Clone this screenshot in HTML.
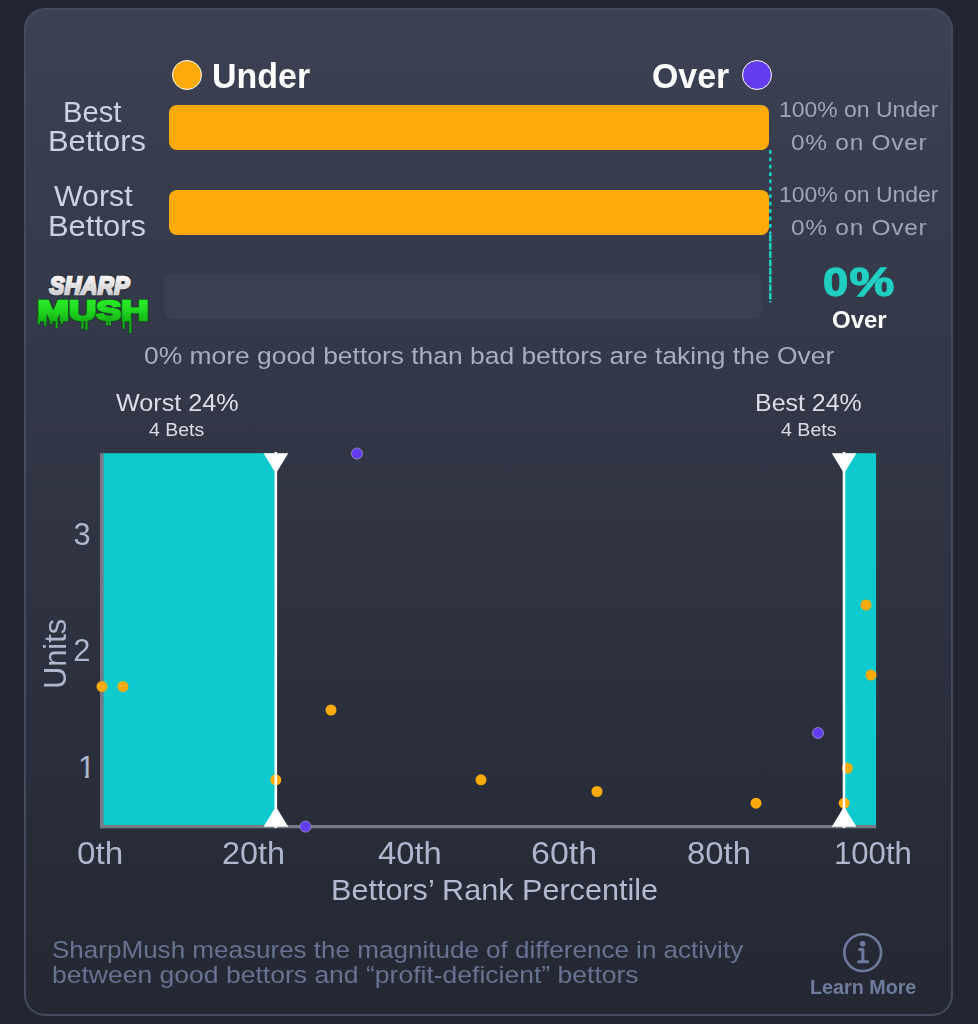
<!DOCTYPE html>
<html>
<head>
<meta charset="utf-8">
<title>SharpMush</title>
<style>
html,body{margin:0;padding:0;}
body{width:978px;height:1024px;background:#222632;overflow:hidden;position:relative;font-family:"Liberation Sans",sans-serif;}
.card{position:absolute;left:24.3px;top:8px;width:924.7px;height:1003.5px;border:2px solid #454c60;border-radius:21px;
  background:linear-gradient(180deg,#3c4153 0%,#242834 100%);}
.t{position:absolute;white-space:nowrap;line-height:1;transform-origin:0 50%;}
.dot{position:absolute;border-radius:50%;box-sizing:border-box;border:1.5px solid #fff;width:30px;height:30px;top:60.3px;}
.bar{position:absolute;height:45px;border-radius:8px;background:#fdab0a;}
svg{position:absolute;left:0;top:0;overflow:visible;}
</style>
</head>
<body>
<div class="card"></div>

<!-- legend dots -->
<div class="dot" style="left:172px;background:#fdab0a;"></div>
<div class="dot" style="left:741.8px;background:#643df0;"></div>

<!-- bars -->
<div class="bar" style="left:169px;top:105px;width:600px;"></div>
<div class="bar" style="left:169px;top:190px;width:600px;"></div>
<div class="bar" style="left:164px;top:274.4px;width:598px;height:44.6px;background:#3c4152;"></div>

<!-- chart + decorations -->
<svg width="978" height="1024" viewBox="0 0 978 1024">
  <defs>
    <linearGradient id="gs" x1="0" y1="0" x2="0" y2="1"><stop offset="0" stop-color="#ffffff"/><stop offset="1" stop-color="#c4c4c6"/></linearGradient>
    <linearGradient id="gm" x1="0" y1="0" x2="0" y2="1"><stop offset="0" stop-color="#2cf02c"/><stop offset="0.45" stop-color="#22dd22"/><stop offset="1" stop-color="#12a812"/></linearGradient>
  </defs>
  <!-- dashed divider -->
  <line x1="770.3" y1="150" x2="770.3" y2="234" stroke="#1fd0c4" stroke-width="2.5" stroke-dasharray="3.7 3.7"/>
  <line x1="770.3" y1="234.5" x2="770.3" y2="302.4" stroke="#1fd0c4" stroke-width="2.5" stroke-dasharray="7 1.3"/>
  <!-- teal regions -->
  <rect x="103" y="453.2" width="172" height="373" fill="#0ccace"/>
  <rect x="845" y="453.2" width="31.1" height="373" fill="#0ccace"/>
  <!-- axes -->
  <rect x="100" y="453.2" width="3.6" height="375.1" fill="#767a87"/>
  <rect x="100" y="825" width="776.1" height="3.3" fill="#767a87"/>
  <!-- points -->
  <g fill="#fdab0a">
    <circle cx="102" cy="686.6" r="5.5"/><circle cx="122.9" cy="686.6" r="5.5"/>
    <circle cx="275.8" cy="779.8" r="5.5"/><circle cx="331" cy="710" r="5.5"/>
    <circle cx="481" cy="779.8" r="5.5"/><circle cx="597" cy="791.5" r="5.5"/>
    <circle cx="756" cy="803.2" r="5.5"/><circle cx="866" cy="605" r="5.5"/>
    <circle cx="871" cy="675" r="5.5"/><circle cx="847.4" cy="768.2" r="5.5"/>
    <circle cx="844.2" cy="803.2" r="5.5"/>
  </g>
  <g fill="#643df0" stroke="#9a98c4" stroke-width="0.8">
    <circle cx="357" cy="453.5" r="5.5"/><circle cx="305.5" cy="826.6" r="5.5"/><circle cx="818" cy="733" r="5.5"/>
  </g>
  <!-- markers -->
  <rect x="274.5" y="452" width="2.6" height="376" fill="#fff"/>
  <rect x="842.7" y="452" width="2.6" height="376" fill="#fff"/>
  <path d="M263.5 453.2h24.8l-12.4 20.2z M263.5 826.7h24.8l-12.4 -20.2z M831.8 453.2h24.6l-12.3 20.2z M831.8 826.7h24.6l-12.3 -20.2z" fill="#fff"/>
  <!-- y tick "1" (foot clipped to match plain numeral) -->
  <clipPath id="c1"><path d="M70 750H96V775H70z M85.1 775H88.7V782H85.1z"/></clipPath>
  <text x="78.0" y="778" font-family="Liberation Sans, sans-serif" font-size="31" fill="#aeb7cd" clip-path="url(#c1)">1</text>
  <!-- info icon -->
  <circle cx="862.7" cy="952.6" r="18.4" fill="none" stroke="#6e7b9c" stroke-width="2.6"/>
  <path d="M859.7 949.6H862.9V961.6M858.7 961.8H867.7" fill="none" stroke="#6e7b9c" stroke-width="3" stroke-linecap="round" stroke-linejoin="round"/>
  <circle cx="862.7" cy="943.7" r="2.8" fill="#6e7b9c"/>
  <!-- logo -->
  <g font-family="Liberation Sans, sans-serif" font-weight="bold">
    <g transform="translate(49.6 293.6) scale(0.975 1)" font-size="23.4" font-style="italic">
      <text x="0.00" y="0" stroke="#1d202a" stroke-width="4.6" stroke-linejoin="round" fill="#1d202a" opacity="0.62">S</text>
      <text x="0.00" y="0" stroke="url(#gs)" stroke-width="2.4" stroke-linejoin="miter" fill="url(#gs)">S</text>
      <text x="15.61" y="0" stroke="#1d202a" stroke-width="4.6" stroke-linejoin="round" fill="#1d202a" opacity="0.62">H</text>
      <text x="15.61" y="0" stroke="url(#gs)" stroke-width="2.4" stroke-linejoin="miter" fill="url(#gs)">H</text>
      <text x="32.50" y="0" stroke="#1d202a" stroke-width="4.6" stroke-linejoin="round" fill="#1d202a" opacity="0.62">A</text>
      <text x="32.50" y="0" stroke="url(#gs)" stroke-width="2.4" stroke-linejoin="miter" fill="url(#gs)">A</text>
      <text x="49.40" y="0" stroke="#1d202a" stroke-width="4.6" stroke-linejoin="round" fill="#1d202a" opacity="0.62">R</text>
      <text x="49.40" y="0" stroke="url(#gs)" stroke-width="2.4" stroke-linejoin="miter" fill="url(#gs)">R</text>
      <text x="66.29" y="0" stroke="#1d202a" stroke-width="4.6" stroke-linejoin="round" fill="#1d202a" opacity="0.62">P</text>
      <text x="66.29" y="0" stroke="url(#gs)" stroke-width="2.4" stroke-linejoin="miter" fill="url(#gs)">P</text>
    </g>
    <path d="M38.8 318V323.3M45.3 318V325.3M51.3 318V323.3M56.6 318V327.3M61.9 318V323.3M82.5 318V327.9M86.5 318V329.3M107.1 318V324.6M109.9 318V324.6M123.7 318V327.9M130.4 318V331.9" stroke="#0c4a14" stroke-width="4" stroke-linecap="round" opacity="0.55" fill="none"/>
    <g transform="translate(37.4 319.6) scale(1.40 1)" font-size="27">
      <text x="0.00" y="0" stroke="#0c4a14" stroke-width="4.4" stroke-linejoin="round" fill="#0c4a14" opacity="0.62">M</text>
      <text x="0.00" y="0" stroke="url(#gm)" stroke-width="2.3" stroke-linejoin="miter" fill="url(#gm)">M</text>
      <text x="22.49" y="0" stroke="#0c4a14" stroke-width="4.4" stroke-linejoin="round" fill="#0c4a14" opacity="0.62">U</text>
      <text x="22.49" y="0" stroke="url(#gm)" stroke-width="2.3" stroke-linejoin="miter" fill="url(#gm)">U</text>
      <text x="41.98" y="0" stroke="#0c4a14" stroke-width="4.4" stroke-linejoin="round" fill="#0c4a14" opacity="0.62">S</text>
      <text x="41.98" y="0" stroke="url(#gm)" stroke-width="2.3" stroke-linejoin="miter" fill="url(#gm)">S</text>
      <text x="59.99" y="0" stroke="#0c4a14" stroke-width="4.4" stroke-linejoin="round" fill="#0c4a14" opacity="0.62">H</text>
      <text x="59.99" y="0" stroke="url(#gm)" stroke-width="2.3" stroke-linejoin="miter" fill="url(#gm)">H</text>
    </g>
    <path d="M38.8 318V323.3M45.3 318V325.3M51.3 318V323.3M56.6 318V327.3M61.9 318V323.3M82.5 318V327.9M86.5 318V329.3M107.1 318V324.6M109.9 318V324.6M123.7 318V327.9M130.4 318V331.9" stroke="#14b414" stroke-width="2" stroke-linecap="round" fill="none"/>
  </g>
</svg>

<div id="txt" style="position:absolute;left:0;top:0;width:978px;height:1024px;will-change:transform;">
<!-- rotated axis title -->
<div class="t" style="left:54.5px;top:654px;font-size:31px;color:#aeb7cd;letter-spacing:-0.1px;transform-origin:50% 50%;transform:translate(-50%,-50%) rotate(-90deg);">Units</div>

<div class="t" style="left:823.3px;top:261.9px;font-size:41.28px;color:#20cfc1;font-weight:bold;-webkit-text-stroke:1.3px #20cfc1;letter-spacing:1.2px;transform:scaleX(1.100);">0<span style="display:inline-block;transform:scaleX(1.11);transform-origin:0 50%;">%</span></div>
<div class="t" style="left:211.5px;top:59.4px;font-size:34.88px;color:#ffffff;font-weight:bold;transform:scaleX(0.974);">Under</div>
<div class="t" style="left:652.3px;top:59.0px;font-size:35.47px;color:#ffffff;font-weight:bold;transform:scaleX(0.956);">Over</div>
<div class="t" style="left:63.3px;top:96.5px;font-size:30.09px;color:#cdd2e1;transform:scaleX(0.969);">Best</div>
<div class="t" style="left:47.9px;top:125.8px;font-size:30.09px;color:#cdd2e1;transform:scaleX(1.028);">Bettors</div>
<div class="t" style="left:53.8px;top:181.1px;font-size:30.09px;color:#cdd2e1;transform:scaleX(1.009);">Worst</div>
<div class="t" style="left:47.9px;top:211.4px;font-size:30.09px;color:#cdd2e1;transform:scaleX(1.028);">Bettors</div>
<div class="t" style="left:779.1px;top:98.8px;font-size:22.24px;color:#a0a6b8;transform:scaleX(1.032);">100% on Under</div>
<div class="t" style="left:790.7px;top:132.2px;font-size:22.24px;color:#a0a6b8;letter-spacing:0.66px;transform:scaleX(1.100);">0% on Over</div>
<div class="t" style="left:779.1px;top:183.6px;font-size:22.24px;color:#a0a6b8;transform:scaleX(1.032);">100% on Under</div>
<div class="t" style="left:790.7px;top:217.0px;font-size:22.24px;color:#a0a6b8;letter-spacing:0.66px;transform:scaleX(1.100);">0% on Over</div>
<div class="t" style="left:831.6px;top:308.9px;font-size:23.26px;color:#ffffff;font-weight:bold;transform:scaleX(1.031);">Over</div>
<div class="t" style="left:144.0px;top:343.8px;font-size:24.13px;color:#a6aec4;transform:scaleX(1.095);">0% more good bettors than bad bettors are taking the Over</div>
<div class="t" style="left:116.0px;top:390.5px;font-size:24.71px;color:#dadeea;transform:scaleX(1.020);">Worst 24%</div>
<div class="t" style="left:755.2px;top:390.5px;font-size:24.71px;color:#dadeea;transform:scaleX(1.009);">Best 24%</div>
<div class="t" style="left:149.1px;top:421.8px;font-size:17.88px;color:#dadeea;transform:scaleX(1.089);">4 Bets</div>
<div class="t" style="left:780.9px;top:421.8px;font-size:17.88px;color:#dadeea;transform:scaleX(1.097);">4 Bets</div>
<div class="t" style="left:73.6px;top:519.7px;font-size:30.81px;color:#aeb7cd;">3</div>
<div class="t" style="left:73.3px;top:636.1px;font-size:30.81px;color:#aeb7cd;">2</div>
<div class="t" style="left:76.5px;top:837.7px;font-size:31.40px;color:#aeb7cd;transform:scaleX(1.062);">0th</div>
<div class="t" style="left:221.6px;top:837.7px;font-size:31.40px;color:#aeb7cd;transform:scaleX(1.032);">20th</div>
<div class="t" style="left:378.2px;top:837.7px;font-size:31.40px;color:#aeb7cd;transform:scaleX(1.043);">40th</div>
<div class="t" style="left:531.2px;top:837.7px;font-size:31.40px;color:#aeb7cd;transform:scaleX(1.082);">60th</div>
<div class="t" style="left:686.7px;top:837.7px;font-size:31.40px;color:#aeb7cd;transform:scaleX(1.046);">80th</div>
<div class="t" style="left:834.2px;top:837.7px;font-size:31.40px;color:#aeb7cd;transform:scaleX(0.991);">100th</div>
<div class="t" style="left:331.1px;top:875.2px;font-size:29.51px;color:#b3bbd0;transform:scaleX(1.037);">Bettors’ Rank Percentile</div>
<div class="t" style="left:52.4px;top:938.3px;font-size:24.13px;color:#677391;transform:scaleX(1.079);">SharpMush measures the magnitude of difference in activity</div>
<div class="t" style="left:52.4px;top:962.8px;font-size:24.13px;color:#677391;transform:scaleX(1.099);">between good bettors and “profit-deficient” bettors</div>
<div class="t" style="left:809.8px;top:978.3px;font-size:19.91px;color:#6e7b9c;font-weight:bold;transform:scaleX(0.991);">Learn More</div>
</div>
</body>
</html>
